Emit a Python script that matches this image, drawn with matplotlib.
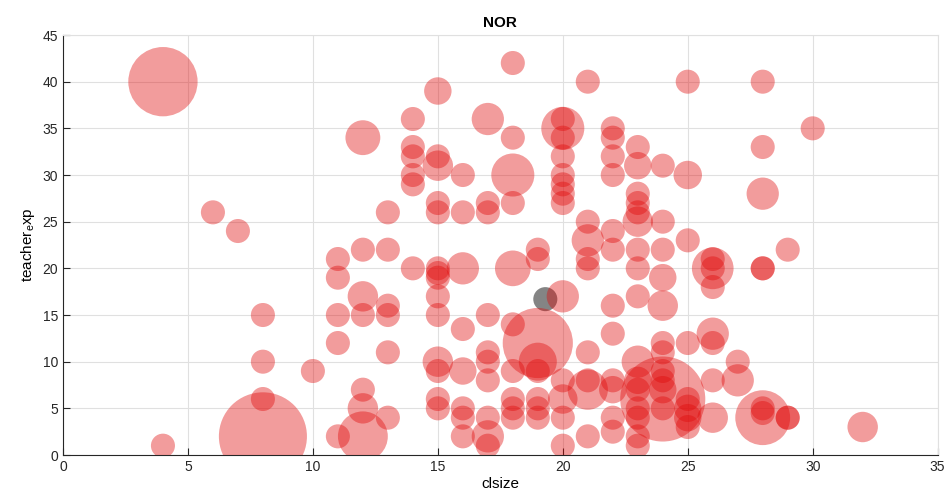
import matplotlib
matplotlib.use("Agg")
import matplotlib.pyplot as plt
import numpy as np

plt.rcParams['font.family'] = ['Liberation Sans', 'DejaVu Sans']
plt.rcParams['mathtext.default'] = 'regular'

# class size, teacher experience, and relative bubble weight (area)
clsize = [
    4, 4, 6, 7, 8, 8, 8, 8, 10,
    11, 11, 11, 11, 11,
    12, 12, 12, 12, 12, 12, 12,
    13, 13, 13, 13, 13, 13,
    14, 14, 14, 14, 14, 14,
    15, 15, 15, 15, 15, 15, 15, 15, 15, 15, 15, 15, 15, 15,
    16, 16, 16, 16, 16, 16, 16, 16,
    17, 17, 17, 17, 17, 17, 17, 17, 17, 17,
    18, 18, 18, 18, 18, 18, 18, 18, 18, 18,
    19, 19, 19, 19, 19, 19, 19, 19,
    20, 20, 20, 20, 20, 20, 20, 20, 20, 20, 20, 20, 20,
    21, 21, 21, 21, 21, 21, 21, 21, 21,
    22, 22, 22, 22, 22, 22, 22, 22, 22, 22, 22, 22,
    23, 23, 23, 23, 23, 23, 23, 23, 23, 23, 23, 23, 23, 23, 23, 23,
    24, 24, 24, 24, 24, 24, 24, 24, 24, 24, 24, 24,
    25, 25, 25, 25, 25, 25, 25, 25,
    26, 26, 26, 26, 26, 26, 26, 26,
    27, 27,
    28, 28, 28, 28, 28, 28, 28, 28,
    29, 29, 29, 30, 32,
]
teacher_exp = [
    40, 1, 26, 24, 15, 10, 6, 2, 9,
    21, 19, 15, 12, 2,
    34, 22, 17, 15, 7, 5, 2,
    26, 22, 16, 15, 11, 4,
    36, 33, 32, 30, 29, 20,
    39, 32, 31, 27, 26, 20, 19.5, 19, 17, 15, 10, 9, 6, 5,
    30, 26, 20, 13.5, 9, 5, 4, 2,
    36, 27, 26, 15, 11, 10, 8, 4, 2, 1,
    42, 34, 30, 27, 20, 14, 9, 6, 5, 4,
    22, 21, 12, 10, 9, 6, 5, 4,
    36, 35, 34, 32, 30, 29, 28, 27, 17, 8, 6, 4, 1,
    40, 25, 23, 21, 20, 11, 8, 7, 2,
    35, 34, 32, 30, 24, 22, 16, 13, 8, 7, 4, 2.5,
    33, 31, 28, 27, 26, 25, 22, 20, 17, 10, 8, 7, 5, 4, 2, 1,
    31, 25, 22, 19, 16, 12, 11, 9, 8, 7, 6, 5,
    40, 30, 23, 12, 6, 5, 4, 3,
    21, 20, 20, 18, 13, 12, 8, 4,
    10, 8,
    40, 33, 28, 20, 20, 5, 4.5, 4,
    22, 4, 4, 35, 3,
]
weight = [
    8.3, 1, 1, 1, 1, 1, 1, 13.4, 1,
    1, 1, 1, 1, 1,
    2.1, 1, 1.6, 1, 1, 1.6, 4.3,
    1, 1, 1, 1, 1, 1,
    1, 1, 1, 1, 1, 1,
    1.3, 1, 1.6, 1, 1, 1, 1, 1, 1, 1, 1.6, 1, 1, 1,
    1, 1, 1.8, 1, 1.3, 1, 1, 1,
    1.8, 1, 1, 1, 1, 1, 1, 1, 1.8, 1,
    1, 1, 3.2, 1, 2.2, 1, 1, 1, 1, 1,
    1, 1, 8.5, 2.5, 1, 1, 1, 1,
    1, 3.2, 1, 1, 1, 1, 1, 1, 1.8, 1, 1.5, 1, 1,
    1, 1, 1.8, 1, 1, 1, 1, 2.8, 1,
    1, 1, 1, 1, 1, 1, 1, 1, 1, 1.3, 1, 1,
    1, 1.3, 1, 1, 1, 1.6, 1, 1, 1, 1.8, 1.3, 1, 1, 1, 1, 1,
    1, 1, 1, 1.3, 1.6, 1, 1, 1, 1, 1.3, 12.5, 1,
    1, 1.4, 1, 1, 1, 1.3, 1.3, 1,
    1, 3.0, 1, 1, 1.8, 1, 1, 1.6,
    1, 1.8,
    1, 1, 1.8, 1, 1, 1, 1, 5.2,
    1, 1, 1, 1, 1.6,
]

# overall mean point
mean_clsize = [19.3]
mean_exp = [16.7]

base_area = 300.0

fig = plt.figure(figsize=(9.5, 5.03), dpi=100)
ax = fig.add_axes([0.0663, 0.0954, 0.9207, 0.8350])

ax.scatter(mean_clsize, mean_exp, s=base_area, color=(0.2, 0.2, 0.2),
           alpha=0.6, edgecolors='none', zorder=2)
ax.scatter(clsize, teacher_exp, s=np.array(weight) * base_area,
           color=(0.88, 0.03, 0.03), alpha=0.4, edgecolors='none', zorder=3)

ax.set_xlim(0, 35)
ax.set_ylim(0, 45)
ax.set_xticks(np.arange(0, 36, 5))
ax.set_yticks(np.arange(0, 46, 5))
ax.grid(True, color=(0.88, 0.88, 0.88), linewidth=0.8, zorder=0)
ax.set_axisbelow(True)

ax.tick_params(direction='in', length=5, width=0.8, colors=(0.15, 0.15, 0.15),
               labelsize=10, top=False, right=False)
for side in ('left', 'bottom'):
    ax.spines[side].set_color((0.15, 0.15, 0.15))
    ax.spines[side].set_linewidth(0.8)
for side in ('top', 'right'):
    ax.spines[side].set_color((0.88, 0.88, 0.88))
    ax.spines[side].set_linewidth(0.8)

ax.set_title('NOR', fontsize=11, fontweight='bold', pad=6)
ax.set_xlabel('clsize', fontsize=11, labelpad=2)
ax.set_ylabel(r'teacher$_e$xp', fontsize=11, labelpad=4)

fig.savefig('out.png', dpi=100)
